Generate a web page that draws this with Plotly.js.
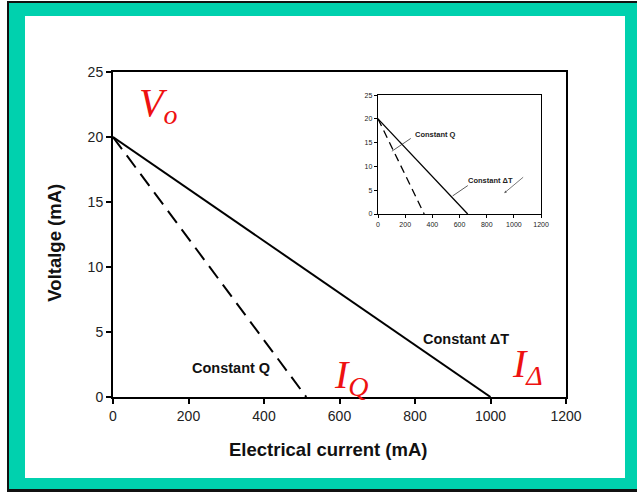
<!DOCTYPE html>
<html>
<head>
<meta charset="utf-8">
<script src="https://cdn.plot.ly/plotly-3.0.1.min.js"></script>
<style>
html,body{margin:0;padding:0;background:#fff;}
#wrap{position:absolute;left:0;top:0;width:637px;height:492px;background:#fff;overflow:hidden;}
.b{position:absolute;}
#chart{position:absolute;left:25px;top:16px;width:600px;height:462px;}
</style>
</head>
<body>
<div id="wrap">
  <div class="b" style="left:7px;top:1px;width:2px;height:491px;background:#111;"></div>
  <div class="b" style="left:7px;top:1px;width:630px;height:2px;background:#111;"></div>
  <div class="b" style="left:7px;top:489px;width:630px;height:3px;background:#111;"></div>
  <div class="b" style="left:9px;top:3px;width:16px;height:486px;background:#00D1AE;"></div>
  <div class="b" style="left:9px;top:3px;width:628px;height:13px;background:#00D1AE;"></div>
  <div class="b" style="left:625px;top:3px;width:12px;height:486px;background:#00D1AE;"></div>
  <div class="b" style="left:9px;top:478px;width:628px;height:11px;background:#00D1AE;"></div>
  <div id="chart"></div>
</div>
<script>
// Main chart data
var currentDT = [0, 1000];
var voltageDT = [20, 0];
var currentQ = [0, 512];
var voltageQ = [20, 0];

// Inset data
var insetCurrentDT = [0, 660];
var insetVoltageDT = [20, 0];
var insetCurrentQ = [0, 340];
var insetVoltageQ = [20, 0];

var xTicks = [0, 200, 400, 600, 800, 1000, 1200];
var yTicks = [0, 5, 10, 15, 20, 25];

var FONT = 'Liberation Sans, Arial, sans-serif';

var traces = [
  {x: currentDT, y: voltageDT, mode: 'lines', line: {color: '#000', width: 2}, xaxis: 'x', yaxis: 'y', hoverinfo: 'skip'},
  {x: currentQ, y: voltageQ, mode: 'lines', line: {color: '#000', width: 2, dash: '15px,8px'}, xaxis: 'x', yaxis: 'y', hoverinfo: 'skip'},
  {x: insetCurrentDT, y: insetVoltageDT, mode: 'lines', line: {color: '#000', width: 1.3}, xaxis: 'x2', yaxis: 'y2', hoverinfo: 'skip'},
  {x: insetCurrentQ, y: insetVoltageQ, mode: 'lines', line: {color: '#000', width: 1.3, dash: '8px,5px'}, xaxis: 'x2', yaxis: 'y2', hoverinfo: 'skip'}
];

var red = {family: 'Liberation Serif, DejaVu Serif, serif', size: 40, color: '#ee1111'};

var annotations = [
  {xref: 'paper', yref: 'paper', x: 0.4746, y: -0.163, xanchor: 'center', yanchor: 'middle', text: '<b>Electrical current (mA)</b>', showarrow: false, font: {family: FONT, size: 18.5, color: '#111'}},
  {xref: 'paper', yref: 'paper', x: -0.128, y: 0.475, xanchor: 'center', yanchor: 'middle', textangle: -90, text: '<b>Voltalge (mA)</b>', showarrow: false, font: {family: FONT, size: 18.5, color: '#111'}},
  {xref: 'x', yref: 'y', x: 313, y: 2.2, text: '<b>Constant Q</b>', showarrow: false, font: {family: FONT, size: 14.5, color: '#111'}},
  {xref: 'x', yref: 'y', x: 935, y: 4.45, text: '<b>Constant ΔT</b>', showarrow: false, font: {family: FONT, size: 14.5, color: '#111'}},
  {xref: 'x', yref: 'y', x: 119, y: 22.5, text: '<i>V<sub>o</sub></i>', showarrow: false, font: red},
  {xref: 'x', yref: 'y', x: 633, y: 1.55, text: '<i>I<sub>Q</sub></i>', showarrow: false, font: red},
  {xref: 'x', yref: 'y', x: 1099, y: 2.4, text: '<i>I<sub>Δ</sub></i>', showarrow: false, font: red},
  // inset labels
  {xref: 'x2', yref: 'y2', x: 424, y: 16.8, text: '<b>Constant Q</b>', showarrow: false, font: {family: FONT, size: 7.5, color: '#222'}},
  {xref: 'x2', yref: 'y2', x: 827, y: 7.1, text: '<b>Constant ΔT</b>', showarrow: false, font: {family: FONT, size: 7.5, color: '#222'}},
  {xref: 'x2', yref: 'y2', axref: 'x2', ayref: 'y2', x: 102, y: 13.2, ax: 252, ay: 16.1, text: '', showarrow: true, arrowhead: 0, arrowwidth: 0.8, arrowcolor: '#333', standoff: 0, startstandoff: 0},
  {xref: 'x2', yref: 'y2', axref: 'x2', ayref: 'y2', x: 549, y: 3.8, ax: 672, ay: 6.2, text: '', showarrow: true, arrowhead: 0, arrowwidth: 0.8, arrowcolor: '#333', standoff: 0, startstandoff: 0},
  {xref: 'x2', yref: 'y2', axref: 'x2', ayref: 'y2', x: 929, y: 4.4, ax: 1079, ay: 8.0, text: '', showarrow: true, arrowhead: 2, arrowsize: 0.6, arrowwidth: 0.8, arrowcolor: '#555', standoff: 0, startstandoff: 0}
];

var layout = {
  width: 600, height: 462,
  margin: {l: 88, r: 59, t: 56, b: 81},
  paper_bgcolor: 'rgba(0,0,0,0)',
  plot_bgcolor: '#fff',
  showlegend: false,
  font: {family: FONT, color: '#222'},
  xaxis: {
    range: [0, 1200], tickvals: xTicks, ticktext: xTicks.map(String),
    showgrid: false, zeroline: false, showline: true, mirror: true,
    linecolor: '#000', linewidth: 2, ticks: 'outside', ticklen: 5, tickwidth: 2, tickcolor: '#000',
    tickfont: {family: FONT, size: 14, color: '#222'},
    domain: [0, 1], anchor: 'y'
  },
  yaxis: {
    range: [0, 25], tickvals: yTicks, ticktext: yTicks.map(String),
    showgrid: false, zeroline: false, showline: true, mirror: true,
    linecolor: '#000', linewidth: 2, ticks: 'outside', ticklen: 5, tickwidth: 2, tickcolor: '#000',
    tickfont: {family: FONT, size: 14, color: '#222'},
    domain: [0, 1], anchor: 'x'
  },
  xaxis2: {
    range: [0, 1200], tickvals: xTicks, ticktext: xTicks.map(String),
    showgrid: false, zeroline: false, showline: true, mirror: true,
    linecolor: '#000', linewidth: 1.3, ticks: 'outside', ticklen: 3, tickwidth: 1, tickcolor: '#000',
    tickfont: {family: FONT, size: 7, color: '#222'},
    domain: [0.585, 0.945], anchor: 'y2'
  },
  yaxis2: {
    range: [0, 25], tickvals: yTicks, ticktext: yTicks.map(String),
    showgrid: false, zeroline: false, showline: true, mirror: true,
    linecolor: '#000', linewidth: 1.3, ticks: 'outside', ticklen: 3, tickwidth: 1, tickcolor: '#000',
    tickfont: {family: FONT, size: 7, color: '#222'},
    domain: [0.563, 0.929], anchor: 'x2'
  },
  annotations: annotations
};

Plotly.newPlot('chart', traces, layout, {staticPlot: true, displayModeBar: false});
</script>
</body>
</html>
